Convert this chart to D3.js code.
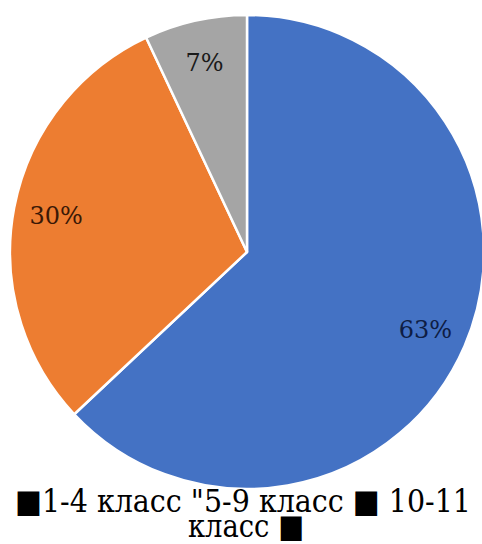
<!DOCTYPE html>
<html>
<head>
<meta charset="utf-8">
<script src="https://cdn.jsdelivr.net/npm/d3@7"></script>
<style>
  html, body { margin: 0; padding: 0; background: #fff; }
  svg { display: block; }
  text { font-family: 'DejaVu Serif', serif; }
</style>
</head>
<body>
<svg></svg>
<script>
const width = 482;
const height = 544;

// data
const categories = ['1-4 класс', '5-9 класс', '10-11 класс'];
const values = [63, 30, 7];
const labels = ['63%', '30%', '7%'];
const colors = ['#4472C4', '#ED7D31', '#A5A5A5'];
const labelColors = ['#0e1d44', '#3a1806', '#1a1a1a'];
const legendLines = ['\u25A01-4 класс "5-9 класс \u25A0 10-11', 'класс \u25A0'];

const center = [247, 252];
const radius = 237;

const svg = d3.select('svg')
    .attr('width', width).attr('height', height);

const pie = d3.pie().sort(null).value(d => d);
const arcs = pie(values);

const arc = d3.arc().innerRadius(0).outerRadius(radius);
const labelArc = d3.arc().innerRadius(radius * 0.82).outerRadius(radius * 0.82);

const pieGroup = svg.append('g')
    .attr('transform', `translate(${center[0]},${center[1]})`);

pieGroup.selectAll('path')
    .data(arcs)
    .enter().append('path')
    .attr('d', arc)
    .attr('fill', (d, i) => colors[i])
    .attr('stroke', '#fff')
    .attr('stroke-width', 2.5)
    .attr('stroke-linejoin', 'round');

pieGroup.selectAll('text')
    .data(arcs)
    .enter().append('text')
    .attr('transform', d => `translate(${labelArc.centroid(d)})`)
    .attr('text-anchor', 'middle')
    .attr('dy', '0.35em')
    .attr('font-size', 24)
    .attr('fill', (d, i) => labelColors[i])
    .text((d, i) => labels[i]);

// legend, wrapped onto two lines like the original
const legend = svg.append('g')
    .attr('font-size', 32)
    .attr('fill', '#000');

legend.append('text')
    .attr('x', 15).attr('y', 512)
    .attr('textLength', 456)
    .attr('lengthAdjust', 'spacingAndGlyphs')
    .text(legendLines[0]);

legend.append('text')
    .attr('x', 246).attr('y', 537)
    .attr('text-anchor', 'middle')
    .attr('textLength', 116)
    .attr('lengthAdjust', 'spacingAndGlyphs')
    .text(legendLines[1]);
</script>
</body>
</html>
